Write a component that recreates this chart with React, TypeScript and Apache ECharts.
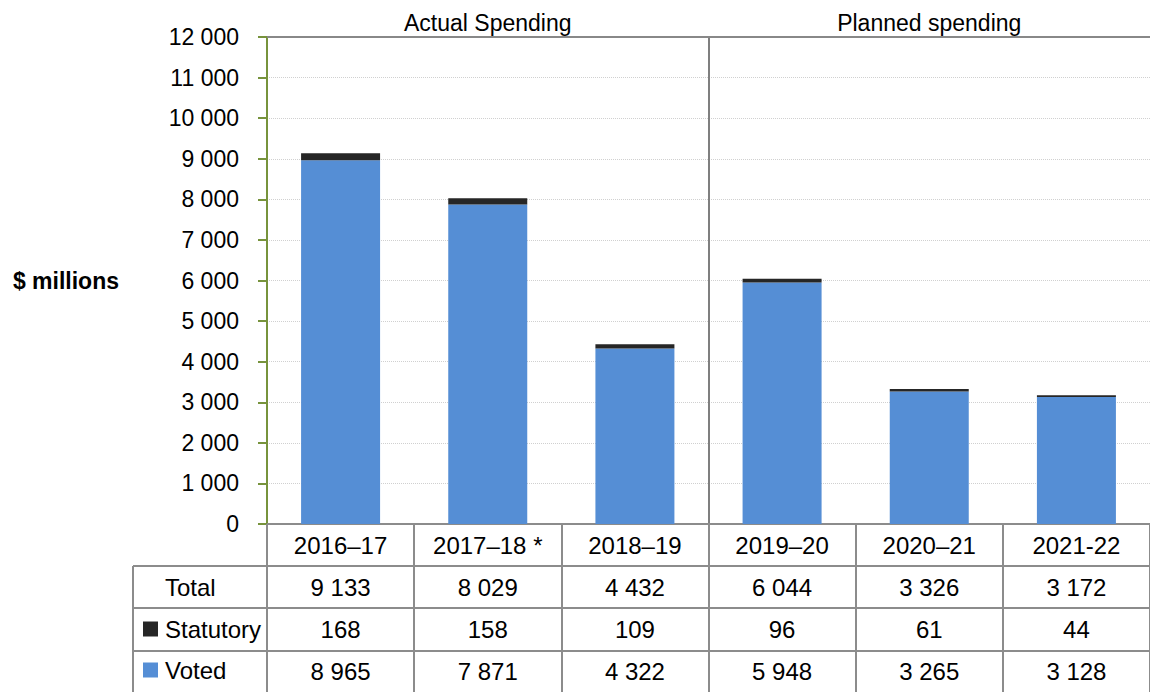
import React, { useEffect, useRef } from "react";
import * as echarts from "echarts";

const categories = ["2016–17", "2017–18 *", "2018–19", "2019–20", "2020–21", "2021-22"];
const sections = ["Actual Spending", "Planned spending"];
const voted = [8965, 7871, 4322, 5948, 3265, 3128];
const statutory = [168, 158, 109, 96, 61, 44];
const total = [9133, 8029, 4432, 6044, 3326, 3172];

const fmt = (n: number) => String(n).replace(/\B(?=(\d{3})+(?!\d))/g, " ");

const FONT = "'Liberation Sans Narrow', 'Arial Narrow', 'Liberation Sans', Arial, sans-serif";
const FS = 24;
const GRID_LEFT = 267;
const GRID_TOP = 37;
const GRID_H = 487;
const GRID_W = 888;
const TABLE_LINE = "#8c8c8c";

export default function App() {
  const ref = useRef<HTMLDivElement>(null);
  useEffect(() => {
    if (!ref.current) return;
    const chart = echarts.init(ref.current, undefined, { renderer: "svg" });
    const rowAxis = (data: string[], margin: number) => ({
      type: "category",
      position: "bottom",
      gridIndex: 0,
      data,
      axisLine: { show: false, onZero: false },
      axisTick: { show: false },
      splitLine: { show: false },
      axisLabel: {
        interval: 0,
        margin,
        verticalAlign: "middle",
        color: "#000",
        fontFamily: FONT,
        fontSize: FS,
      },
    });
    const legendItem = (name: string, top: number) => ({
      orient: "vertical",
      left: 143,
      top,
      padding: 0,
      itemWidth: 15,
      itemHeight: 15,
      icon: "rect",
      data: [name],
      textStyle: { color: "#000", fontFamily: FONT, fontSize: FS, padding: [0, 0, 0, 2] },
    });
    chart.setOption({
      animation: false,
      textStyle: { fontFamily: FONT },
      grid: { left: GRID_LEFT, top: GRID_TOP, width: GRID_W, height: GRID_H, containLabel: false },
      legend: [legendItem("Statutory", 617), legendItem("Voted", 658)],
      xAxis: [
        {
          type: "category",
          position: "bottom",
          data: categories,
          axisLine: { show: true, onZero: false, lineStyle: { color: TABLE_LINE, width: 2 } },
          axisTick: { show: true, length: 168, lineStyle: { color: TABLE_LINE, width: 2 } },
          axisLabel: {
            interval: 0,
            margin: 21,
            verticalAlign: "middle",
            color: "#000",
            fontFamily: FONT,
            fontSize: FS,
          },
        },
        {
          type: "category",
          position: "top",
          data: sections,
          axisLine: { show: true, onZero: false, lineStyle: { color: "#888", width: 2 } },
          axisTick: { show: false },
          axisLabel: {
            interval: 0,
            margin: 14,
            verticalAlign: "middle",
            color: "#000",
            fontFamily: FONT,
            fontSize: 23,
          },
          splitLine: {
            show: true,
            showMinLine: false,
            showMaxLine: false,
            lineStyle: { color: "#7f7f7f", width: 2, type: "solid" },
          },
        },
        rowAxis(total.map(fmt), 63),
        rowAxis(statutory.map(fmt), 105.5),
        rowAxis(voted.map(fmt), 147.5),
      ],
      yAxis: {
        type: "value",
        min: 0,
        max: 12000,
        interval: 1000,
        name: "$ millions",
        nameLocation: "middle",
        nameRotate: 0,
        nameGap: 148,
        nameTextStyle: {
          color: "#000",
          fontWeight: "bold",
          fontSize: 23,
          fontFamily: "'Liberation Sans', Arial, sans-serif",
          padding: [5, 0, 0, 0],
        },
        axisLine: { show: true, lineStyle: { color: "#77933C", width: 2 } },
        axisTick: { show: true, length: 9, lineStyle: { color: "#77933C", width: 2 } },
        axisLabel: {
          margin: 28,
          color: "#000",
          fontFamily: FONT,
          fontSize: 23,
          formatter: (v: number) => fmt(v),
        },
        splitLine: { show: true, lineStyle: { color: "#d0d0d0", width: 1, type: "dotted" } },
      },
      series: [
        {
          name: "Voted",
          type: "bar",
          stack: "s",
          barWidth: 79,
          data: voted,
          itemStyle: { color: "#558ED5" },
        },
        {
          name: "Statutory",
          type: "bar",
          stack: "s",
          barWidth: 79,
          data: statutory,
          itemStyle: { color: "#262626" },
        },
      ],
      graphic: [
        { type: "line", shape: { x1: 133, y1: 566, x2: 1155, y2: 566 }, style: { stroke: TABLE_LINE, lineWidth: 2 } },
        { type: "line", shape: { x1: 133, y1: 608, x2: 1155, y2: 608 }, style: { stroke: TABLE_LINE, lineWidth: 2 } },
        { type: "line", shape: { x1: 133, y1: 651, x2: 1155, y2: 651 }, style: { stroke: TABLE_LINE, lineWidth: 2 } },
        { type: "line", shape: { x1: 133, y1: 566, x2: 133, y2: 692 }, style: { stroke: TABLE_LINE, lineWidth: 2 } },
        {
          type: "text",
          x: 165,
          y: 587,
          style: { text: "Total", fill: "#000", font: `${FS}px ${FONT}`, verticalAlign: "middle", align: "left" },
        },
      ],
    });
    return () => chart.dispose();
  }, []);
  return <div ref={ref} style={{ position: "absolute", left: 0, top: 0, width: 1150, height: 692 }} />;
}
